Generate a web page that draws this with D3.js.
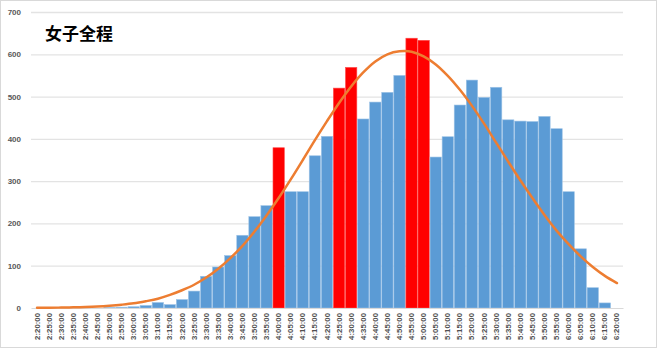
<!DOCTYPE html>
<html>
<head>
<meta charset="utf-8">
<script src="https://cdn.jsdelivr.net/npm/d3@7"></script>
<style>
  html, body { margin: 0; padding: 0; background: #fff; }
  svg { display: block; font-family: "Liberation Sans", Arial, sans-serif; }
</style>
</head>
<body>
<svg id="chart" width="660" height="349"></svg>
<script>
const title = "女子全程";
const categories = ["2:20:00","2:25:00","2:30:00","2:35:00","2:40:00","2:45:00","2:50:00","2:55:00","3:00:00","3:05:00",
  "3:10:00","3:15:00","3:20:00","3:25:00","3:30:00","3:35:00","3:40:00","3:45:00","3:50:00","3:55:00",
  "4:00:00","4:05:00","4:10:00","4:15:00","4:20:00","4:25:00","4:30:00","4:35:00","4:40:00","4:45:00",
  "4:50:00","4:55:00","5:00:00","5:05:00","5:10:00","5:15:00","5:20:00","5:25:00","5:30:00","5:35:00",
  "5:40:00","5:45:00","5:50:00","5:55:00","6:00:00","6:05:00","6:10:00","6:15:00","6:20:00"];
const counts = [0,0,0,0,0,0,1,2,3,6,
  13,8,20,40,75,97,124,172,216,242,
  379,275,275,360,406,520,569,447,487,510,
  550,638,633,357,405,480,539,498,522,445,
  442,441,453,424,275,140,48,12,0];
const highlighted = ["4:00:00","4:25:00","4:30:00","4:55:00","5:00:00"];
const normalCurve = [0.4,0.6,1,1.6,2.4,3.6,5.4,7.8,11,16,
  22,31,42,55,72,93,118,147,181,219,
  260,304,350,397,442,485,524,557,583,600,
  607,606,595,576,549,516,478,436,391,346,
  302,260,220,183,151,122,97,76,59];
const yTicks = [0,100,200,300,400,500,600,700];

const svg = d3.select("#chart");
const W = 660, H = 349;
const m = {left: 31, right: 37, top: 12, bottom: 41};

// outer border
svg.append("rect").attr("x", 0.5).attr("y", 0.5).attr("width", 656).attr("height", 347)
  .attr("fill", "#fff").attr("stroke", "#d9d9d9");

const x = d3.scaleBand().domain(categories).range([m.left, W - m.right]).paddingInner(0.06).paddingOuter(0.03);
const y = d3.scaleLinear().domain([0, 700]).range([H - m.bottom, m.top]);

// gridlines
svg.append("g").selectAll("line").data(yTicks.filter(d => d > 0)).join("line")
  .attr("x1", m.left).attr("x2", W - m.right)
  .attr("y1", d => y(d) + 0.5).attr("y2", d => y(d) + 0.5)
  .attr("stroke", "#e3e3e3").attr("stroke-width", 1.3);

// y labels
const yAxis = d3.axisLeft(y).tickValues(yTicks).tickSize(0).tickPadding(10);
const gy = svg.append("g").attr("transform", `translate(${m.left},0)`).call(yAxis);
gy.select(".domain").remove();
gy.selectAll("text").attr("fill", "#595959").attr("font-size", 8).attr("font-weight", "bold")
  .attr("font-family", "Liberation Sans, Arial, sans-serif");

// bars
svg.append("g").selectAll("rect").data(categories).join("rect")
  .attr("x", d => x(d))
  .attr("width", x.bandwidth())
  .attr("y", (d, i) => y(counts[i]))
  .attr("height", (d, i) => y(0) - y(counts[i]))
  .attr("fill", d => highlighted.includes(d) ? "#ff0000" : "#5b9bd5")
  .attr("stroke", d => highlighted.includes(d) ? "#ff4d4d" : "#9dc3e6")
  .attr("stroke-width", 0.6);

// x axis
const xAxis = d3.axisBottom(x).tickSize(0).tickPadding(5);
const gx = svg.append("g").attr("transform", `translate(0,${y(0)})`).call(xAxis);
gx.select(".domain").attr("stroke", "#d9d9d9").attr("stroke-width", 1);
gx.selectAll("text")
  .attr("transform", "rotate(-90)")
  .attr("text-anchor", "end")
  .attr("dominant-baseline", "central")
  .attr("x", -5).attr("y", 0).attr("dy", null)
  .attr("fill", "#505050").attr("font-size", 7.8).attr("font-weight", "bold")
  .attr("font-family", "Liberation Sans, Arial, sans-serif");

// normal curve
const line = d3.line()
  .x((d, i) => x(categories[i]) + x.bandwidth() / 2)
  .y(d => y(d))
  .curve(d3.curveCatmullRom.alpha(0.5));
svg.append("path").datum(normalCurve)
  .attr("d", line).attr("fill", "none")
  .attr("stroke", "#ed7d31").attr("stroke-width", 2.5).attr("stroke-linecap", "round");

// title
svg.append("text").attr("x", 45).attr("y", 40).text(title)
  .attr("font-family", "Noto Sans CJK SC, sans-serif").attr("font-size", 17).attr("font-weight", "bold")
  .attr("fill", "#000");
</script>
</body>
</html>
